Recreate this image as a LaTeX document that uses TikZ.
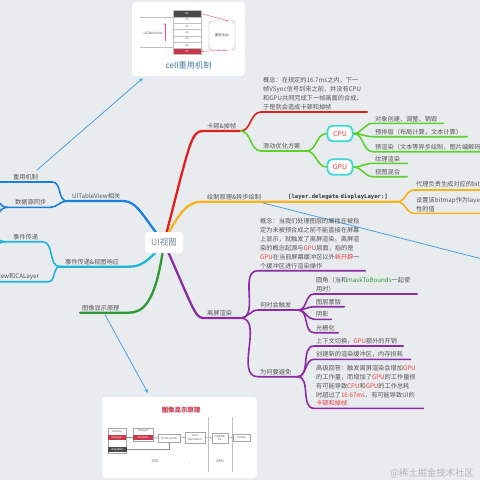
\documentclass[tikz,border=0pt]{standalone}
\usepackage{fontspec}
\setmainfont{Noto Sans CJK SC}
\newfontfamily\monof{DejaVu Sans Mono}
\usetikzlibrary{calc,arrows.meta}
\definecolor{bgc}{HTML}{E9ECEF}
\definecolor{txt}{HTML}{555555}
\definecolor{uigray}{HTML}{6F7F8E}
\definecolor{cred}{HTML}{E0201E}
\definecolor{cgreen}{HTML}{5CD22A}
\definecolor{cyanbox}{HTML}{3DD8D8}
\definecolor{corange}{HTML}{F8B21C}
\definecolor{cthin}{HTML}{4AA3E8}
\definecolor{cpurple}{HTML}{8B2BA5}
\definecolor{cblue}{HTML}{1A80DC}
\definecolor{ccyan}{HTML}{1EB5D6}
\definecolor{cdgreen}{HTML}{2E9A34}
\definecolor{hlred}{HTML}{F03C3C}
\definecolor{hlgreen}{HTML}{2E9A34}
\definecolor{pinkarr}{HTML}{E8507A}
\definecolor{cardred}{HTML}{C8384A}
\definecolor{darkrow}{HTML}{4A4A4A}
\definecolor{capblue}{HTML}{3E7FA0}
\definecolor{wm}{HTML}{B2B6BA}
\newcommand{\hlr}[1]{\textcolor{hlred}{#1}}
\newcommand{\hlg}[1]{\textcolor{hlgreen}{#1}}
\newcommand{\lbf}{\fontsize{6.2}{8.9}\selectfont}
\newcommand{\tinyf}{\fontsize{2.8}{3.2}\selectfont}
\pgfdeclarelayer{back}
\pgfdeclarelayer{lines}
\pgfsetlayers{back,lines,main}
\tikzset{
  lb/.style={anchor=south west, inner xsep=2pt, inner ysep=1.6pt, align=left, font=\lbf, text=txt},
  br/.style={line width=2.3pt, line cap=round},
  sb/.style={line width=1.6pt, line cap=round},
  scr/.style={out=0,in=180},
  scl/.style={out=180,in=0},
  cpub/.style={draw=cyanbox, line width=1.8pt, fill=white, rounded corners=5pt, minimum width=25pt, minimum height=15.5pt, inner sep=0pt, text=hlred, font=\fontsize{7}{8}\selectfont},
  card/.style={fill=white, rounded corners=4pt, inner sep=0pt},
  thinarr/.style={cthin, line width=0.8pt, -{Stealth[length=4pt,width=3.6pt]}},
  tabrow/.style={draw=black!25, line width=0.3pt, fill=white, minimum width=28pt, minimum height=6.3pt, inner sep=0pt, font=\tinyf, text=black!60},
  pbox/.style={draw=black!35, line width=0.3pt, fill=white, inner sep=0.5pt, font=\tinyf, text=black!70, align=center},
  garr/.style={black!45, line width=0.3pt, -{Stealth[length=1.5pt,width=1.4pt]}},
  pinka/.style={pinkarr, line width=0.4pt, -{Stealth[length=2pt,width=1.8pt]}},
}
\begin{document}
\begin{tikzpicture}[x=1pt,y=-1pt]
\useasboundingbox (0,0) rectangle (480,480);
\begin{pgfonlayer}{back}
\fill[bgc] (0,0) rectangle (480,480);
\end{pgfonlayer}

% ---------- top card: cell reuse ----------
\node[card, minimum width=113pt, minimum height=74pt] (card1) at (188.5,39) {};
\node[tabrow, fill=darkrow, text=white] (A1) at (187,13.6) {A1};
\foreach \i in {2,...,6} \node[tabrow] (A\i) at (187,{13.6+6.3*(\i-1)}) {A\i};
\node[tabrow, fill=cardred, text=white] (A7) at (187,51.4) {A7};
\node[font=\fontsize{3.3}{4}\selectfont, text=black!65] (utv) at (153,33) {UITableView};
\draw[black!25, line width=0.3pt] (140,17.3) -- (173,17.3) (140,46.7) -- (173,46.7);
\draw[pinka] (165,41) -- (165,23);
\node[draw=black!40, line width=0.4pt, fill=white, rounded corners=3pt, minimum width=26pt, minimum height=29pt, font=\fontsize{3.3}{4}\selectfont, text=black!75] (pool) at (222,35.5) {重用池(A)};
\draw[pinka] (A1.east) -- ($(pool.north)+(6,0)$);
\draw[pinka] ($(pool.south)+(6,0)$) -- (A7.east);
\node[font=\fontsize{8.2}{9}\selectfont, text=capblue] (cap1) at (188.5,65) {cell重用机制};

% ---------- bottom card: display principle ----------
\node[card, minimum width=155pt, minimum height=81pt] (card2) at (179.5,437.5) {};
\node[font=\bfseries\fontsize{6.4}{7}\selectfont, text=cardred] (ttl2) at (181,410) {图像显示原理};
\node[pbox, minimum width=18pt, minimum height=25pt] (uvb) at (117,440.5) {};
\node[font=\tinyf, text=black!70] (uvl) at (117,431) {UIView};
\node[fill=cardred, minimum width=18pt, minimum height=5pt, inner sep=0pt, font=\tinyf, text=white] (uvc) at (117,437.5) {CALayer};
\node[fill=darkrow, minimum width=19pt, minimum height=5.5pt, inner sep=0pt, font=\tinyf, text=white] (dr) at (117.5,449.5) {drawRect};
\node[pbox, minimum width=20pt, minimum height=13pt] (clb) at (143,434.5) {};
\node[font=\tinyf, text=black!70] (cll) at (143,431) {CALayer};
\node[fill=cardred, minimum width=20pt, minimum height=5pt, inner sep=0pt, font=\tinyf, text=white] (clc) at (143,437.5) {contents};
\node[pbox, minimum width=22pt, minimum height=8pt] (hw) at (169,438) {Hello world};
\node[pbox, minimum width=20pt, minimum height=11pt] (ca) at (195,437.5) {Core\\Animation};
\node[pbox, minimum width=16pt, minimum height=10pt] (og) at (220,438) {OpenGL\\ES};
\node[pbox, minimum width=17pt, minimum height=7pt] (scrn) at (241.5,437.5) {Screen};
\draw[garr] (uvc.east) -- (clc.west);
\draw[garr] (clc.east) -- (hw.west);
\draw[garr] (hw.east) -- (ca.west);
\draw[garr] (ca.east) -- (og.west);
\draw[garr] (og.east) -- (scrn.west);
\draw[garr] (dr.east) -| (hw.south);
\draw[black!25, line width=0.4pt] (208,417) -- (208,472) (232,417) -- (232,472);
\node[font=\fontsize{3.5}{4}\selectfont, text=black!70] (cpul) at (155,461) {CPU};
\node[font=\fontsize{3.5}{4}\selectfont, text=black!70] (gpul) at (220,461) {GPU};
\fill[black!50] (189,463) circle (0.4);

% ---------- watermark ----------
\node[font=\fontsize{9.3}{10}\selectfont, text=wm] (wmk) at (432,473) {@稀土掘金技术社区};

% ---------- center ----------
\node[fill=white, rounded corners=3pt, minimum width=38pt, minimum height=21pt, inner sep=0pt, font=\fontsize{8.5}{10}\selectfont, text=uigray] (c) at (164,242.5) {UI视图};

% ---------- red / green ----------
\node[lb, text width=33pt] (kd) at (203,131) {\hspace*{2pt}卡顿\&掉帧};
\node[lb, text width=102pt] (gn1) at (261,112) {概念：在规定的16.7ms之内，下一\\帧VSync信号到来之前，并没有CPU\\和GPU共同完成下一帧画面的合成，\\于是就会造成卡顿和掉帧};
\node[lb, text width=41pt] (hd) at (261,151) {滑动优化方案};
\node[cpub] (cpu) at (340,133.5) {CPU};
\node[cpub] (gpu) at (340,167) {GPU};
\node[lb, text width=66pt] (dx1) at (373,123.3) {对象创建、调整、销毁};
\node[lb, text width=90pt] (dx2) at (373,136.7) {预排版（布局计算，文本计算）};
\node[lb, text width=130pt] (dx3) at (373,151.7) {预渲染（文本等异步绘制，图片编解码）};
\node[lb, text width=30pt] (g1) at (373,163.3) {纹理渲染};
\node[lb, text width=30pt] (g2) at (373,176.7) {视图混合};

% ---------- orange ----------
\node[lb, text width=62pt] (hz) at (202,201.7) {\hspace*{3pt}绘制原理\&异步绘制};
\node[lb, text width=107pt, font=\monof\bfseries\fontsize{5.6}{7}\selectfont, text=black!80] (ld) at (286,201.7) {[layer.delegate displayLayer:]};
\node[lb, text width=100pt] (o1) at (414,190) {代理负责生成对应的bitmap};
\node[lb, text width=110pt] (o2) at (414,213.3) {设置该bitmap作为layer的contents属\\性的值};

% ---------- purple ----------
\node[lb, text width=33pt] (lp) at (203,318) {\hspace*{2pt}离屏渲染};
\node[lb, text width=103pt] (gn2) at (258,270.7) {概念：当我们处理图层的属性在被指\\定为未被预合成之前不能直接在屏幕\\上显示，就触发了离屏渲染。离屏渲\\染的概念起源与\hlr{GPU}层面，指的是\\\hlr{GPU}在当前屏幕缓冲区以外\hlr{新开辟}一\\个缓冲区进行渲染操作};
\node[lb, text width=36pt] (hs) at (258,310) {何时会触发};
\node[lb, text width=35pt] (wh) at (258,376.7) {为何要避免};
\node[lb, text width=99pt] (t1) at (314,294) {圆角（当和\hlg{maskToBounds}一起使\\用时）};
\node[lb, text width=26pt] (t2) at (314,306.7) {图层蒙版};
\node[lb, text width=13pt] (t3) at (314,319.3) {阴影};
\node[lb, text width=20pt] (t4) at (314,332.7) {光栅化};
\node[lb, text width=85pt] (a1) at (314,346) {上下文切换，\hlr{GPU}额外的开销};
\node[lb, text width=92pt] (a2) at (314,359.3) {创建新的渲染缓冲区，内存损耗};
\node[lb, text width=105pt] (a3) at (314,408.3) {高级回答：触发离屏渲染会增加\hlr{GPU}\\的工作量，而增加了\hlr{GPU}的工作量很\\有可能导致\hlr{CPU}和\hlr{GPU}的工作总耗\\时超过了\hlr{16.67ms}，有可能导致UI的\\\hlr{卡顿和掉帧}};

% ---------- blue ----------
\node[lb, text width=52pt] (ut) at (67,201) {\hspace*{3pt}UITableView相关};
\node[lb, text width=58pt] (cy) at (-10,182) {\hspace*{21pt}重用机制};
\node[lb, text width=39pt] (sj) at (7,207.3) {\hspace*{6pt}数据源同步};
\coordinate (jl1) at (-14,188);
\coordinate (jl2) at (-14,228);

% ---------- cyan ----------
\node[lb, text width=63pt] (sx) at (60,266.7) {\hspace*{3pt}事件传递\&视图响应};
\node[lb, text width=33pt] (sd) at (5,241.7) {\hspace*{6pt}事件传递};
\node[lb, text width=57pt] (uv) at (-13,281.7) {UIView和CALayer};
\coordinate (el1) at (-20,226);
\coordinate (el2) at (-20,260);

% ---------- dark green ----------
\node[lb, text width=44pt] (tx) at (80,312.7) {图像显示原理};

\coordinate (ta1) at (37,170);

\begin{pgfonlayer}{lines}
% red
\draw[br,cred] (c.center) .. controls +(26,-100) and +(-12,0) .. (kd.south west) -- (kd.south east);
\draw[sb,cred] (kd.south east) to[scr] (gn1.south west) -- (gn1.south east);
% green
\draw[sb,cgreen] (kd.south east) to[scr] (hd.south west) -- (hd.south east);
\draw[sb,cgreen] (hd.south east) to[scr] (cpu.west);
\draw[sb,cgreen] (hd.south east) to[scr] (gpu.west);
\foreach \n in {dx1,dx2,dx3} \draw[sb,cgreen] (cpu.east) to[scr] (\n.south west) -- (\n.south east);
\foreach \n in {g1,g2} \draw[sb,cgreen] (gpu.east) to[scr] (\n.south west) -- (\n.south east);
% orange
\draw[br,corange] (c.center) .. controls +(16,-34) and +(-12,0) .. (hz.south west) -- (hz.south east) -- (ld.south west) -- (ld.south east);
\draw[sb,corange] (ld.south east) to[scr] (o1.south west) -- (o1.south east);
\draw[sb,corange] (ld.south east) to[scr] (o2.south west) -- (o2.south east);
% purple
\draw[br,cpurple] (c.center) .. controls +(28,63) and +(-8,0) .. (lp.south west) -- (lp.south east);
\draw[sb,cpurple] (lp.south east) to[scr] (gn2.south west) -- (gn2.south east);
\draw[sb,cpurple] (lp.south east) to[scr] (hs.south west) -- (hs.south east);
\draw[sb,cpurple] (lp.south east) to[scr] (wh.south west) -- (wh.south east);
\foreach \n in {t1,t2,t3,t4} \draw[sb,cpurple] (hs.south east) to[scr] (\n.south west) -- (\n.south east);
\foreach \n in {a1,a2,a3} \draw[sb,cpurple] (wh.south east) to[scr] (\n.south west) -- (\n.south east);
% blue
\draw[br,cblue] (c.center) .. controls +(-20,-24) and +(14,0) .. (ut.south east) -- (ut.south west);
\draw[sb,cblue] (ut.south west) to[scl] (cy.south east) -- (cy.south west);
\draw[sb,cblue] (ut.south west) to[scl] (sj.south east) -- (sj.south west);
\draw[sb,cblue] (sj.south west) to[scl] (jl1);
\draw[sb,cblue] (sj.south west) to[scl] (jl2);
% cyan
\draw[br,ccyan] (c.center) .. controls +(-18,22) and +(12,0) .. (sx.south east) -- (sx.south west);
\draw[sb,ccyan] (sx.south west) to[scl] (sd.south east) -- (sd.south west);
\draw[sb,ccyan] (sx.south west) to[scl] (uv.south east) -- (uv.south west);
\draw[sb,ccyan] (sd.south west) to[scl] (el1);
\draw[sb,ccyan] (sd.south west) to[scl] (el2);
% dark green
\draw[br,cdgreen] (c.center) .. controls +(-8,62) and +(14,0) .. (tx.south east) -- (tx.south west);
% thin links
\draw[thinarr] (ta1) -- ($(card1.south west)+(11,2)$);
\draw[thinarr] ($(tx.south west)+(25,2)$) -- ($(card2.north west)+(46,-4)$);
\draw[cthin, line width=0.8pt] ($(hz.south east)+(-5,1.3)$) -- (500,263.5);
\end{pgfonlayer}
\end{tikzpicture}
\end{document}
